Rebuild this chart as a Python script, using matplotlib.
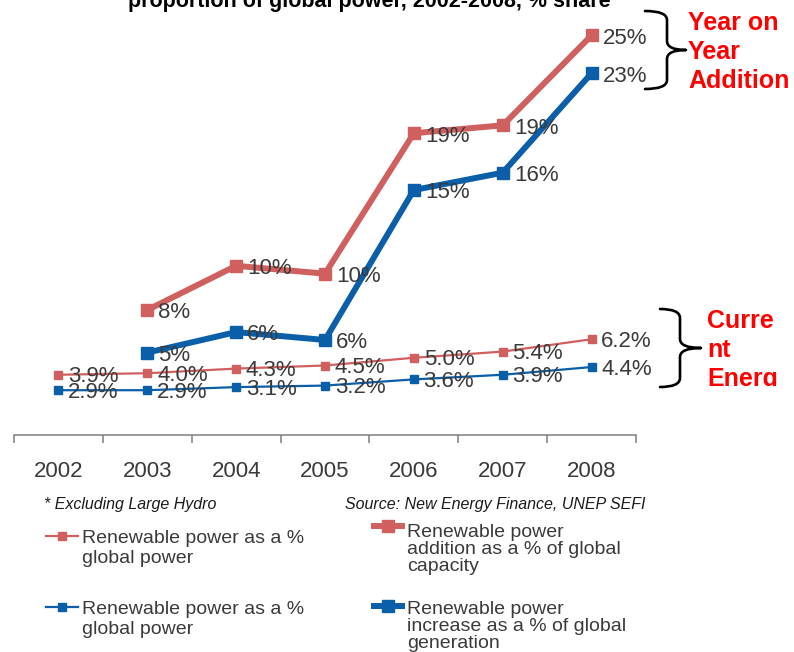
import matplotlib
matplotlib.use("Agg")
import matplotlib.pyplot as plt
import numpy as np
from matplotlib.lines import Line2D
from matplotlib.path import Path
from matplotlib.patches import PathPatch, Rectangle

plt.rcParams['font.family'] = ['Liberation Sans', 'DejaVu Sans']

years = ['2002', '2003', '2004', '2005', '2006', '2007', '2008']

# current share of global power (left scale)
share_capacity = [3.9, 4.0, 4.3, 4.5, 5.0, 5.4, 6.2]
share_generation = [2.9, 2.9, 3.1, 3.2, 3.6, 3.9, 4.4]

# year on year additions (hidden secondary scale), no 2002 value
addition_capacity = [np.nan, 7.6, 10.4, 9.9, 18.8, 19.3, 25.0]
increase_generation = [np.nan, 4.9, 6.2, 5.7, 15.2, 16.3, 22.6]

legend_labels = [
    'Renewable power as a %\nglobal power',
    'Renewable power\naddition as a % of global\ncapacity',
    'Renewable power as a %\nglobal power',
    'Renewable power\nincrease as a % of global\ngeneration',
]

RED = '#d06060'
BLUE = '#0a5fa8'
TXT = '#3a3a3a'

W, H = 794, 652
fig = plt.figure(figsize=(W / 100, H / 100), dpi=100)


def fx(x):
    return x / W


def fy(y):
    return 1 - y / H


ax = fig.add_axes([fx(14), fy(435), 622 / W, 417 / H])
ax2 = ax.twinx()
x = np.arange(len(years))

ax.plot(x, share_capacity, color=RED, lw=1.6, marker='s', ms=6, zorder=2)
ax.plot(x, share_generation, color=BLUE, lw=1.6, marker='s', ms=6, zorder=2)
ax2.plot(x, addition_capacity, color=RED, lw=4.3, marker='s', ms=9, zorder=3)
ax2.plot(x, increase_generation, color=BLUE, lw=4.3, marker='s', ms=9, zorder=3)

for xi, v in zip(x, share_capacity):
    ax.annotate(f'{v:.1f}%', (xi, v), xytext=(7, -5.5), textcoords='offset points',
                ha='left', va='baseline', fontsize=16, color=TXT, zorder=5)
for xi, v in zip(x, share_generation):
    ax.annotate(f'{v:.1f}%', (xi, v), xytext=(7, -5.5), textcoords='offset points',
                ha='left', va='baseline', fontsize=16, color=TXT, zorder=5)
for series in (addition_capacity, increase_generation):
    for xi, v in zip(x, series):
        if np.isnan(v):
            continue
        ax2.annotate(f'{v:.0f}%', (xi, v), xytext=(8, -6), textcoords='offset points',
                     ha='left', va='baseline', fontsize=16, color=TXT, zorder=5)

ax.set_xlim(-0.5, len(years) - 0.5)
ax.set_ylim(0, 27)
ax2.set_ylim(-0.32, 26.1)

for a in (ax, ax2):
    for side in ('top', 'left', 'right'):
        a.spines[side].set_visible(False)
    a.set_yticks([])
    a.patch.set_visible(False)
ax2.spines['bottom'].set_visible(False)
ax.spines['bottom'].set_color('#7f7f7f')
ax.spines['bottom'].set_linewidth(1.1)

ax.set_xticks(x)
ax.set_xticklabels(years)
ax.set_xticks(np.arange(-0.5, len(years)), minor=True)
ax.tick_params(axis='x', which='major', length=0, pad=18.5, labelsize=16, labelcolor=TXT)
ax.tick_params(axis='x', which='minor', length=6, width=1.1, color='#7f7f7f', direction='out')

# title, partly cut off at the top edge
fig.text(fx(128), fy(7), 'proportion of global power, 2002-2008, % share',
         fontsize=15.5, fontweight='bold', color='black', ha='left', va='baseline')


def brace(x_end, x_mid, x_tip, y_top, y_bot, r=9):
    ym = (y_top + y_bot) / 2
    pts = [(x_end, y_top), (x_mid, y_top), (x_mid, y_top + r),
           (x_mid, ym - r), (x_mid, ym), (x_tip, ym),
           (x_mid, ym), (x_mid, ym + r),
           (x_mid, y_bot - r), (x_mid, y_bot), (x_end, y_bot)]
    codes = [Path.MOVETO, Path.CURVE3, Path.CURVE3,
             Path.LINETO, Path.CURVE3, Path.CURVE3,
             Path.CURVE3, Path.CURVE3,
             Path.LINETO, Path.CURVE3, Path.CURVE3]
    verts = [(fx(px), fy(py)) for px, py in pts]
    fig.add_artist(PathPatch(Path(verts, codes), fill=False, lw=1.9,
                             edgecolor='black', transform=fig.transFigure,
                             capstyle='round', joinstyle='round'))


brace(645, 667, 686, 11, 89)
brace(660, 680, 701, 309, 387)

fig.text(fx(688), fy(11), 'Year on\nYear\nAddition', fontsize=18, fontweight='bold',
         color='red', ha='left', va='top', linespacing=1.27)
t = fig.text(fx(707), fy(309), 'Curre\nnt\nEnerg', fontsize=18, fontweight='bold',
             color='red', ha='left', va='top', linespacing=1.27)
clip = Rectangle((fx(700), fy(386)), fx(94), fy(295) - fy(386),
                 transform=fig.transFigure, visible=False)
fig.add_artist(clip)
t.set_clip_path(clip)

fig.text(fx(44), fy(497), '* Excluding Large Hydro', fontsize=11.5, style='italic',
         color='#1a1a1a', ha='left', va='top')
fig.text(fx(345), fy(497), 'Source: New Energy Finance, UNEP SEFI', fontsize=11.5,
         style='italic', color='#1a1a1a', ha='left', va='top')

# legend, drawn by hand: (handle x0, x1, handle y, text x, text top, line spacing, colour, thick)
entries = [
    (46, 78, 536, 82, 530, 1.21, RED, False),
    (374, 402, 526, 407, 524, 1.01, RED, True),
    (46, 78, 607, 82, 601, 1.21, BLUE, False),
    (374, 402, 606, 407, 601, 1.01, BLUE, True),
]
for (x0, x1, hy, tx, ty, ls, col, thick), label in zip(entries, legend_labels):
    lw, ms = (4.3, 8.5) if thick else (1.6, 6)
    fig.add_artist(Line2D([fx(x0), fx(x1)], [fy(hy), fy(hy)], color=col, lw=lw,
                          transform=fig.transFigure))
    fig.add_artist(Line2D([fx((x0 + x1) / 2)], [fy(hy)], color=col, marker='s', ms=ms,
                          transform=fig.transFigure))
    fig.text(fx(tx), fy(ty), label, fontsize=14, color=TXT, ha='left', va='top',
             linespacing=ls)

fig.savefig('out.png', dpi=100)
